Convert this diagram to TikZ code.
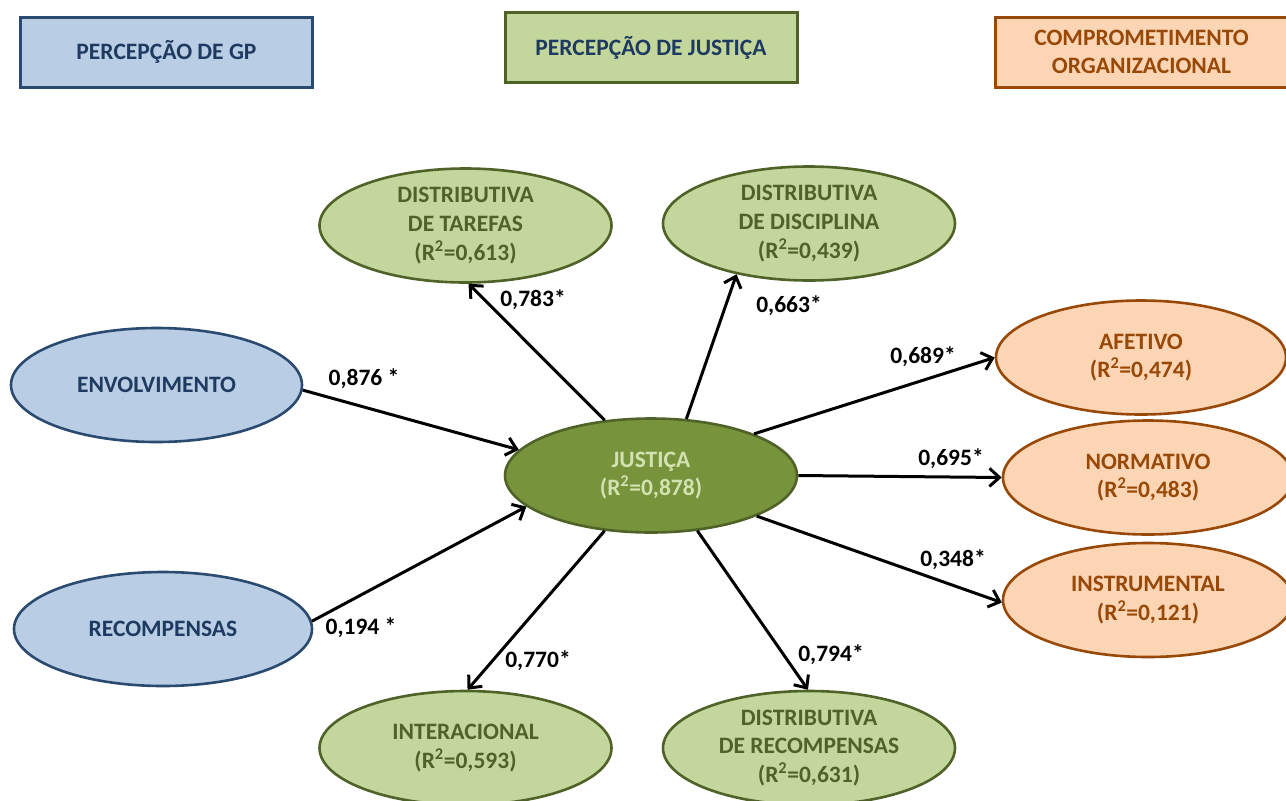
\documentclass[tikz,border=0pt]{standalone}
\usepackage{fontspec}
\setmainfont{Carlito}
\usetikzlibrary{shapes.geometric,arrows.meta}
\definecolor{gpfill}{HTML}{B9CDE5}
\definecolor{gpline}{HTML}{2B4A70}
\definecolor{gptext}{HTML}{1F3A60}
\definecolor{jfill}{HTML}{C3D69B}
\definecolor{jline}{HTML}{4F6228}
\definecolor{jdark}{HTML}{77933C}
\definecolor{jlight}{HTML}{D2E2B0}
\definecolor{cfill}{HTML}{FCD5B5}
\definecolor{cline}{HTML}{984807}
\tikzset{
  every node/.style={font=\fontsize{23.5}{28.6}\selectfont\bfseries, align=center},
  headbox/.style={draw, line width=3pt, minimum width=292pt, minimum height=70pt, inner sep=0pt},
  ell/.style={ellipse, draw, line width=2.6pt, minimum width=292pt, minimum height=114pt, inner sep=0pt},
  gp/.style={fill=gpfill, draw=gpline, text=gptext},
  jus/.style={fill=jfill, draw=jline, text=jline},
  com/.style={fill=cfill, draw=cline, text=cline},
  path/.style={draw=black, line width=3pt, -{Straight Barb[length=10pt,width=18pt,line width=3pt]}},
  val/.style={text=black, inner sep=0pt},
  inner/.style={inner sep=0pt},
}
\newcommand{\rsq}[1]{(R\textsuperscript{2}=#1)}
\begin{document}
\begin{tikzpicture}[x=1pt,y=-1pt]
\useasboundingbox (0,0) rectangle (1286,801);
\clip (0,0) rectangle (1286,801);

% construct headers
\node[headbox, gp] (hgp) at (166.5,52) {PERCEPÇÃO DE GP};
\node[headbox, jus, text=gptext] (hjus) at (651,47.5) {PERCEPÇÃO DE JUSTIÇA};
\node[headbox, com] (hcom) at (1141.5,52) {COMPROMETIMENTO\\ORGANIZACIONAL};

% antecedents
\node[ell, gp, minimum width=291pt, label={[inner, text=gptext]center:ENVOLVIMENTO}] (env) at (156.5,385) {};
\node[ell, gp, minimum width=298pt, label={[inner, text=gptext]center:RECOMPENSAS}] (rec) at (163,629) {};

% justice construct and its dimensions
\node[ell, fill=jdark, draw=jline, label={[inner, text=jlight]center:{JUSTIÇA\\\rsq{0,878}}}] (jus) at (651,475.5) {};
\node[ell, jus, label={[inner, text=jline]center:{DISTRIBUTIVA\\DE TAREFAS\\\rsq{0,613}}}] (tar) at (465.5,225.5) {};
\node[ell, jus, label={[inner, text=jline]center:{DISTRIBUTIVA\\DE DISCIPLINA\\\rsq{0,439}}}] (dis) at (809,223.5) {};
\node[ell, jus, label={[inner, text=jline]center:{INTERACIONAL\\\rsq{0,593}}}] (int) at (465.5,748) {};
\node[ell, jus, label={[inner, text=jline]center:{DISTRIBUTIVA\\DE RECOMPENSAS\\\rsq{0,631}}}] (drc) at (809,748) {};

% organisational commitment
\node[ell, com, minimum width=290pt, label={[inner, text=cline]center:{AFETIVO\\\rsq{0,474}}}] (afe) at (1141,357.5) {};
\node[ell, com, minimum width=290pt, label={[inner, text=cline]center:{NORMATIVO\\\rsq{0,483}}}] (nor) at (1148,477.5) {};
\node[ell, com, minimum width=290pt, label={[inner, text=cline]center:{INSTRUMENTAL\\\rsq{0,121}}}] (ins) at (1148,600) {};

% structural paths
\draw[path] (env.-2) -- (jus.169.6);
\draw[path] (rec.3) -- (jus.-166);
\draw[path] (jus.130.6) -- (tar.-87);
\draw[path] (jus.58) -- (dis.-145.7);
\draw[path] (jus.22.9) -- (afe.180);
\draw[path] (jus.0) -- (nor.180);
\draw[path] (jus.-21.5) -- (ins.-179);
\draw[path] (jus.-130) -- (int.88);
\draw[path] (jus.-50.5) -- (drc.91);

% path coefficients
\node[val] (c1) at (364,379) {0,876 *};
\node[val] (c2) at (361,628) {0,194 *};
\node[val] (c3) at (533,300) {0,783*};
\node[val] (c4) at (789,306) {0,663*};
\node[val] (c5) at (923,357) {0,689*};
\node[val] (c6) at (951,459) {0,695*};
\node[val] (c7) at (953,560) {0,348*};
\node[val] (c8) at (538,661) {0,770*};
\node[val] (c9) at (831,655) {0,794*};
\end{tikzpicture}
\end{document}
